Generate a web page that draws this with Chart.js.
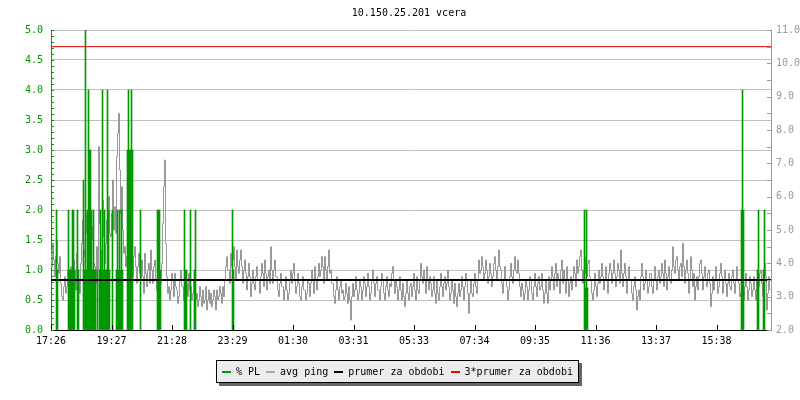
<!DOCTYPE html>
<html>
<head>
<meta charset="utf-8">
<title>10.150.25.201 vcera</title>
<script src="https://cdn.jsdelivr.net/npm/chart.js@4.4.1/dist/chart.umd.min.js"></script>
<style>
  html, body { margin: 0; padding: 0; background: #fff; }
  #graf { display: block; }
</style>
</head>
<body>
<canvas id="graf" width="800" height="400"></canvas>
<script>
// popisky a data grafu
const TITLE = "10.150.25.201 vcera"
const tickLabels = ["17:26", "19:27", "21:28", "23:29", "01:30", "03:31", "05:33", "07:34", "09:35", "11:36", "13:37", "15:38"]
const tickStep = 121 // minut mezi popisky osy x
const dayMinutes = 1440

// avg ping [ms], jeden vzorek = 2 minuty
const pingAvg = [
  4.4, 3.9, 4.6, 4.1, 3.6, 4.2, 4.7, 4.0, 3.7, 4.2, 3.4, 3.0, 2.9, 3.3, 3.6, 3.1, 3.3, 3.8, 3.5, 3.0,
  3.9, 3.4, 3.6, 4.1, 3.8, 3.2, 4.3, 3.7, 3.5, 3.1, 4.0, 4.6, 5.3, 4.4, 4.2, 4.9, 5.5, 4.6, 5.2, 5.9,
  4.4, 5.1, 4.7, 4.0, 3.9, 3.4, 4.5, 3.8, 7.5, 5.2, 4.4, 3.7, 5.9, 4.8, 4.0, 4.6, 5.3, 4.5, 6.0, 4.9,
  4.8, 5.5, 6.5, 5.0, 5.7, 4.9, 7.2, 7.9, 8.5, 6.8, 5.5, 6.3, 5.0, 4.3, 4.5, 3.9, 4.2, 4.8, 4.4, 3.8,
  4.6, 4.1, 3.6, 4.2, 4.5, 3.9, 3.4, 3.9, 4.3, 3.7, 3.5, 4.1, 3.6, 3.1, 4.3, 3.7, 3.3, 3.8, 4.0, 3.4,
  4.4, 3.8, 3.4, 3.9, 4.1, 3.5, 3.2, 3.7, 4.0, 3.5, 3.4, 4.0, 5.2, 6.3, 7.1, 4.6, 3.6, 3.1, 3.3, 2.9,
  3.2, 3.7, 3.5, 3.0, 3.7, 3.3, 3.2, 2.8, 3.0, 3.5, 3.8, 3.3, 3.3, 2.9, 3.1, 3.6, 3.4, 3.0, 3.7, 3.2,
  3.3, 2.9, 3.1, 3.5, 3.3, 2.9, 3.1, 2.7, 2.9, 3.3, 3.0, 2.7, 3.2, 2.8, 2.9, 3.3, 2.6, 2.9, 3.2, 2.8,
  3.1, 2.7, 2.9, 3.2, 3.0, 2.6, 3.2, 2.9, 3.0, 3.3, 3.1, 2.8, 3.3, 3.0, 3.5, 3.9, 4.2, 3.8, 3.8, 3.4,
  4.3, 3.9, 4.1, 4.5, 3.9, 3.5, 4.4, 3.9, 3.7, 4.1, 4.4, 3.9, 3.4, 3.8, 4.1, 3.7, 3.2, 3.6, 4.0, 3.6,
  3.0, 3.4, 3.8, 3.4, 3.2, 3.6, 3.9, 3.5, 3.5, 3.1, 3.6, 4.0, 3.7, 3.3, 4.1, 3.7, 3.2, 3.6, 3.8, 3.4,
  4.5, 3.8, 3.4, 3.8, 4.1, 3.6, 3.6, 3.2, 3.0, 3.4, 3.7, 3.3, 3.3, 2.9, 3.2, 3.6, 3.2, 2.9, 3.1, 3.5,
  3.8, 3.4, 3.7, 4.0, 3.5, 3.1, 3.3, 3.7, 3.4, 3.0, 2.9, 3.3, 3.6, 3.2, 3.2, 2.9, 3.1, 3.5, 3.4, 3.0,
  3.4, 3.8, 3.5, 3.1, 3.9, 3.5, 3.2, 3.6, 4.0, 3.6, 3.8, 4.2, 3.9, 3.4, 4.2, 3.8, 3.5, 3.9, 4.4, 3.7,
  3.8, 3.4, 3.4, 3.0, 2.8, 3.2, 3.6, 3.2, 2.9, 3.3, 3.5, 3.1, 3.2, 2.9, 3.0, 3.4, 3.1, 2.8, 3.3, 2.9,
  2.3, 3.0, 3.4, 3.0, 3.2, 3.6, 3.2, 2.9, 3.1, 3.5, 3.3, 2.9, 3.2, 3.6, 3.4, 3.0, 3.3, 3.7, 3.3, 2.9,
  3.1, 3.5, 3.8, 3.4, 3.0, 3.4, 3.6, 3.2, 3.2, 2.9, 3.3, 3.7, 3.5, 3.1, 2.9, 3.3, 3.6, 3.2, 3.0, 3.4,
  3.3, 3.7, 3.9, 3.5, 3.1, 3.5, 3.3, 2.9, 3.2, 3.6, 3.2, 2.9, 3.4, 3.0, 2.7, 3.1, 3.5, 3.1, 2.9, 3.3,
  3.4, 3.0, 3.3, 3.7, 3.2, 2.9, 3.6, 3.2, 3.1, 3.5, 4.0, 3.6, 3.4, 3.8, 3.5, 3.1, 3.9, 3.5, 3.2, 3.6,
  3.4, 3.0, 3.2, 3.6, 3.1, 2.8, 3.5, 3.1, 2.9, 3.3, 3.7, 3.3, 3.0, 3.4, 3.6, 3.2, 3.4, 3.8, 3.3, 2.9,
  3.1, 3.5, 3.2, 2.8, 3.4, 3.0, 2.7, 3.1, 3.4, 3.0, 3.2, 3.6, 3.3, 2.9, 3.3, 3.7, 3.5, 3.1, 2.5, 3.1,
  3.5, 3.1, 3.0, 3.4, 3.7, 3.3, 3.1, 3.5, 4.1, 3.7, 3.8, 4.2, 3.9, 3.5, 3.7, 4.1, 3.8, 3.4, 3.6, 4.0,
  3.7, 3.3, 3.6, 4.0, 4.2, 3.8, 3.5, 3.9, 4.4, 3.9, 3.8, 3.4, 3.1, 3.5, 3.9, 3.5, 3.3, 2.9, 3.2, 3.6,
  4.0, 3.6, 3.4, 3.8, 4.2, 3.8, 3.7, 4.1, 3.7, 3.3, 3.0, 3.4, 3.2, 2.9, 3.1, 3.5, 3.3, 2.9, 3.2, 3.6,
  3.5, 3.1, 2.9, 3.3, 3.7, 3.3, 3.0, 3.4, 3.6, 3.2, 3.3, 3.7, 3.2, 2.8, 3.1, 3.5, 3.1, 2.8, 3.6, 3.2,
  3.5, 3.9, 3.6, 3.2, 3.7, 4.0, 3.3, 3.7, 3.5, 3.1, 3.8, 4.1, 3.4, 3.8, 3.5, 3.1, 3.9, 3.5, 3.0, 3.4,
  3.6, 3.2, 3.5, 3.9, 3.7, 3.3, 4.1, 3.7, 3.9, 4.2, 4.4, 3.8, 3.4, 3.8, 4.2, 3.7, 3.6, 4.0, 4.1, 3.6,
  3.5, 3.1, 2.9, 3.2, 3.7, 3.3, 3.0, 3.4, 3.8, 3.4, 3.6, 4.0, 3.6, 3.2, 3.5, 3.9, 3.5, 3.1, 3.7, 4.0,
  3.8, 3.4, 3.7, 4.1, 3.7, 3.3, 3.6, 4.0, 3.8, 3.4, 4.4, 3.7, 3.3, 3.7, 4.0, 3.6, 3.1, 3.5, 3.9, 3.5,
  3.5, 3.1, 2.9, 3.3, 3.6, 3.2, 2.6, 3.0, 3.2, 2.9, 3.6, 4.0, 3.6, 3.2, 3.4, 3.8, 3.5, 3.1, 3.3, 3.7,
  3.7, 3.3, 3.1, 3.5, 3.9, 3.5, 3.2, 3.6, 3.8, 3.4, 3.6, 4.0, 3.7, 3.3, 4.1, 3.7, 3.2, 3.6, 3.9, 3.5,
  3.4, 3.8, 4.5, 3.9, 3.7, 4.1, 4.2, 3.8, 3.5, 3.9, 4.0, 3.6, 4.6, 3.9, 3.4, 3.8, 4.1, 3.7, 3.1, 3.5,
  4.2, 3.8, 3.3, 3.7, 2.9, 3.3, 3.6, 3.2, 3.6, 4.0, 4.1, 3.7, 3.2, 3.6, 3.9, 3.5, 3.3, 3.7, 3.8, 3.4,
  2.7, 3.1, 3.6, 3.2, 3.5, 3.9, 3.5, 3.1, 3.3, 3.7, 4.0, 3.6, 3.1, 3.5, 3.8, 3.4, 3.0, 3.4, 3.7, 3.3,
  3.2, 3.6, 3.8, 3.4, 3.1, 3.5, 3.9, 3.5, 3.4, 3.0, 3.1, 3.5, 3.2, 2.9, 3.3, 3.7, 3.3, 2.9, 3.2, 3.6,
  3.4, 3.0, 3.2, 3.6, 3.2, 2.9, 3.5, 3.1, 3.3, 3.7, 3.8, 3.4, 3.0, 3.4, 4.0, 3.6, 2.6, 3.1, 3.6, 3.2
]
const pingStep = 2 // minuty

// ztraty paketu [%], jen nenulove vzorky (vzorek = 2 minuty)
const plSample = [5, 6, 17, 18, 19, 20, 21, 22, 23, 26, 27, 32, 33, 34, 35, 36, 37, 38, 39, 40, 41, 42, 43, 44, 46,
  48, 49, 50, 51, 52, 53, 54, 55, 56, 57, 58, 61, 65, 66, 67, 68, 69, 70, 71, 76, 77, 78, 79, 80, 81, 89,
  106, 107, 108, 109, 133, 134, 135, 139, 143, 144, 181, 182, 533, 534, 535, 536, 690, 691, 692, 706, 707, 712, 713]
const plValue = [2, 1, 2, 1, 1, 1, 2, 2, 1, 2, 1, 2.5, 1, 5, 1, 2, 4, 3, 3, 2, 1, 2, 1, 1, 1,
  1, 2, 1, 4, 1, 2, 1, 1, 4, 2, 1, 2, 1, 2, 1, 2, 1, 2, 1, 3, 4, 3, 3, 4, 3, 2,
  2, 2, 2, 1, 2, 1, 1, 2, 1, 2, 2, 1, 2, 0.7, 2, 0.7, 2, 4, 2, 1, 2, 1, 2]
const plStep = 2 // minuty

const prumer = 3.5 // prumer za obdobi [ms]

const GREEN = "#009900"
const GRAY = "#999999"
const legendNames = ["% PL", "avg ping", "prumer za obdobi", "3*prumer za obdobi"]
const legendColors = [GREEN, "#a8a8a8", "#000000", "#ff0000"]

Chart.defaults.font.family = "'DejaVu Sans Mono', monospace"
Chart.defaults.font.size = 10

// osy, titulek a legenda ve stylu rrdtool
const rrdDecor = {
  id: "rrdDecor",
  afterDraw(chart) {
    const ctx = chart.ctx
    const { left, right, bottom } = chart.chartArea
    const sx = chart.scales.x, sy = chart.scales.y, sy1 = chart.scales.y1
    ctx.save()
    ctx.lineWidth = 1

    ctx.strokeStyle = "#000"
    sx.ticks.forEach((t) => {
      const px = Math.round(sx.getPixelForValue(t.value)) + 0.5
      ctx.beginPath()
      ctx.moveTo(px, bottom)
      ctx.lineTo(px, bottom - 5)
      ctx.stroke()
    })

    ctx.strokeStyle = GREEN
    for (let v = 0; v <= 50; v++) {
      const py = Math.round(sy.getPixelForValue(v / 10)) + 0.5
      ctx.beginPath()
      ctx.moveTo(left, py)
      ctx.lineTo(left + 3, py)
      ctx.stroke()
    }

    ctx.strokeStyle = GRAY
    for (let v = 4; v <= 22; v++) {
      const py = Math.round(sy1.getPixelForValue(v / 2)) + 0.5
      ctx.beginPath()
      ctx.moveTo(right, py)
      ctx.lineTo(right - 4, py)
      ctx.stroke()
    }

    // titulek
    ctx.font = "10px 'DejaVu Sans Mono'"
    ctx.fillStyle = "#000"
    ctx.textAlign = "center"
    ctx.textBaseline = "middle"
    ctx.fillText(TITLE, (left + right) / 2 - 2, 13)

    // legenda
    const markW = 9, gap = 5, itemGap = 6, pad = 6
    const widths = legendNames.map((n) => markW + gap + ctx.measureText(n).width)
    const content = widths.reduce((a, b) => a + b, 0) + itemGap * (widths.length - 1)
    const boxW = Math.round(content + pad * 2)
    const boxX = Math.round(397 - boxW / 2)
    const boxY = 360, boxH = 23
    ctx.fillStyle = "#666"
    ctx.fillRect(boxX + 3, boxY + 3, boxW, boxH)
    ctx.fillStyle = "#ececec"
    ctx.fillRect(boxX, boxY, boxW, boxH)
    ctx.strokeStyle = "#000"
    ctx.strokeRect(boxX + 0.5, boxY + 0.5, boxW - 1, boxH - 1)

    ctx.textAlign = "left"
    let cx = boxX + pad
    const cy = boxY + 12
    legendNames.forEach((n, i) => {
      ctx.fillStyle = legendColors[i]
      ctx.fillRect(Math.round(cx), cy - 1, markW, 2)
      ctx.fillStyle = "#000"
      ctx.fillText(n, cx + markW + gap, cy)
      cx += widths[i] + itemGap
    })
    ctx.restore()
  }
}

new Chart(document.getElementById("graf"), {
  type: "bar",
  data: {
    datasets: [
      {
        type: "line",
        label: "3*prumer za obdobi",
        yAxisID: "y1",
        data: [{ x: 0, y: prumer * 3 }, { x: dayMinutes, y: prumer * 3 }],
        borderColor: "#dd0000",
        borderWidth: 1,
        pointRadius: 0,
        order: 2
      },
      {
        type: "line",
        label: "prumer za obdobi",
        yAxisID: "y1",
        data: [{ x: 0, y: prumer }, { x: dayMinutes, y: prumer }],
        borderColor: "#000000",
        borderWidth: 2,
        pointRadius: 0,
        order: 1
      },
      {
        type: "bar",
        label: "% PL",
        yAxisID: "y",
        data: plSample.map((s, i) => ({ x: s * plStep + plStep / 2, y: plValue[i] })),
        backgroundColor: GREEN,
        borderWidth: 0,
        barThickness: 1,
        order: 3
      },
      {
        type: "line",
        label: "avg ping",
        yAxisID: "y1",
        data: pingAvg.map((v, i) => ({ x: i * pingStep + pingStep / 2, y: v })),
        borderColor: GRAY,
        borderWidth: 1,
        pointRadius: 0,
        stepped: "after",
        order: 4
      }
    ]
  },
  options: {
    responsive: false,
    animation: false,
    layout: { padding: { top: 30, left: 0, right: 0, bottom: 0 } },
    plugins: {
      legend: { display: false },
      title: { display: false },
      tooltip: { enabled: false }
    },
    scales: {
      x: {
        type: "linear",
        min: 0,
        max: dayMinutes,
        offset: false,
        afterFit(scale) { scale.height = 70 },
        afterBuildTicks(scale) {
          scale.ticks = tickLabels.map((_, i) => ({ value: i * tickStep }))
        },
        ticks: {
          autoSkip: false,
          maxRotation: 0,
          padding: 5,
          color: "#000",
          callback: (v, i) => tickLabels[i]
        },
        grid: { drawOnChartArea: false, drawTicks: false, offset: false },
        border: { color: "#000", width: 1 }
      },
      y: {
        position: "left",
        min: 0,
        max: 5,
        afterFit(scale) { scale.width = 51 },
        ticks: {
          stepSize: 0.5,
          padding: 8,
          color: GREEN,
          callback: (v) => v.toFixed(1)
        },
        grid: { color: "#c0c0c0", drawTicks: false },
        border: { color: GREEN, width: 1 }
      },
      y1: {
        position: "right",
        min: 2,
        max: 11,
        afterFit(scale) { scale.width = 29 },
        ticks: {
          stepSize: 1,
          padding: 5,
          color: GRAY,
          callback: (v) => v.toFixed(1)
        },
        grid: { drawOnChartArea: false, drawTicks: false },
        border: { color: GRAY, width: 1 }
      }
    }
  },
  plugins: [rrdDecor]
})
</script>
</body>
</html>
